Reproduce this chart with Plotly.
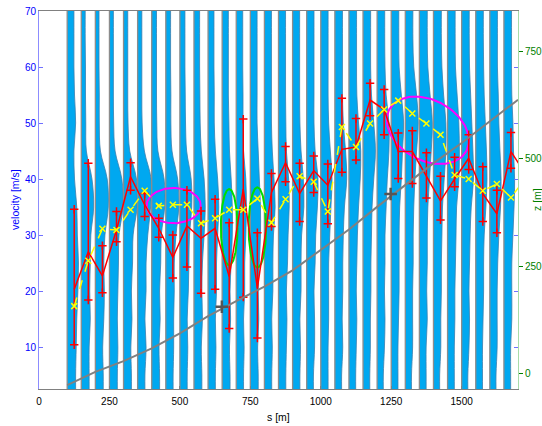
import numpy as np
import plotly.graph_objects as go

# ---------------- data ----------------
station_s = [100, 150, 200, 250, 300, 350, 400, 450, 500, 550, 600, 650, 700, 750, 800, 850,
             900, 950, 1000, 1050, 1100, 1150, 1200, 1250, 1300, 1350, 1400, 1450, 1500, 1550, 1600, 1650]
v_levels = [2.5, 5, 10, 15, 20, 25, 30, 35, 40, 45, 50, 55, 60, 65, 70]
# spectral amplitude (drawn width, in metres) of each station at each velocity level
wig_widths = [
    [30, 30, 32, 34, 38, 40, 36, 34, 26, 24, 30, 26, 24, 24, 24],
    [28, 28, 28, 32, 30, 32, 34, 44, 38, 18, 16, 15, 15, 14, 14],
    [28, 28, 26, 30, 32, 30, 34, 46, 42, 18, 14, 14, 13, 13, 13],
    [28, 28, 30, 28, 30, 32, 34, 48, 44, 20, 15, 14, 14, 14, 14],
    [28, 28, 26, 30, 28, 32, 34, 48, 46, 22, 16, 15, 15, 15, 15],
    [26, 26, 30, 26, 30, 30, 36, 46, 48, 24, 16, 15, 15, 15, 15],
    [28, 28, 26, 30, 28, 32, 34, 46, 44, 22, 18, 17, 17, 17, 17],
    [26, 26, 28, 28, 30, 30, 36, 46, 42, 22, 18, 18, 17, 17, 17],
    [26, 26, 28, 26, 30, 32, 34, 42, 40, 24, 20, 19, 18, 18, 18],
    [28, 28, 26, 30, 28, 30, 36, 40, 36, 26, 22, 21, 20, 20, 20],
    [26, 26, 28, 26, 30, 30, 34, 38, 34, 26, 22, 22, 21, 21, 21],
    [28, 28, 26, 30, 28, 32, 36, 36, 32, 26, 24, 22, 22, 22, 22],
    [26, 26, 28, 26, 30, 30, 34, 36, 34, 26, 24, 24, 23, 23, 23],
    [28, 28, 26, 30, 28, 32, 36, 36, 32, 28, 24, 24, 24, 24, 24],
    [26, 26, 28, 26, 30, 30, 32, 38, 34, 28, 25, 25, 25, 25, 25],
    [26, 26, 28, 30, 28, 32, 34, 38, 36, 28, 26, 25, 25, 25, 25],
    [26, 26, 28, 26, 30, 30, 32, 40, 38, 30, 26, 25, 25, 25, 25],
    [24, 24, 28, 28, 26, 30, 32, 38, 40, 30, 26, 26, 26, 26, 26],
    [26, 26, 26, 28, 28, 28, 32, 36, 40, 34, 28, 26, 26, 26, 26],
    [24, 24, 28, 26, 28, 28, 30, 34, 42, 38, 30, 27, 27, 27, 27],
    [24, 24, 26, 28, 26, 28, 30, 34, 40, 42, 34, 28, 27, 27, 27],
    [24, 24, 26, 26, 28, 28, 30, 32, 38, 44, 38, 30, 27, 27, 27],
    [22, 22, 26, 28, 26, 28, 28, 32, 36, 42, 42, 32, 28, 27, 27],
    [24, 24, 24, 26, 28, 28, 28, 30, 36, 40, 44, 36, 28, 27, 27],
    [22, 22, 26, 26, 26, 28, 28, 30, 34, 40, 46, 40, 30, 27, 27],
    [24, 24, 24, 28, 26, 28, 28, 30, 36, 42, 46, 38, 30, 28, 28],
    [22, 22, 26, 26, 28, 28, 30, 32, 38, 44, 44, 36, 30, 28, 28],
    [24, 24, 24, 26, 26, 28, 30, 32, 40, 42, 40, 34, 28, 27, 27],
    [22, 22, 26, 28, 26, 28, 30, 34, 42, 40, 36, 32, 28, 27, 27],
    [24, 24, 24, 26, 28, 28, 30, 36, 40, 38, 34, 30, 28, 27, 27],
    [22, 22, 26, 26, 26, 28, 32, 38, 40, 36, 32, 30, 27, 27, 27],
    [24, 24, 24, 28, 28, 28, 32, 36, 38, 34, 32, 28, 27, 27, 27],
]

pick_s = [125, 175, 225, 275, 325, 375, 425, 475, 525, 575, 625, 675, 725, 775, 825, 875,
          925, 975, 1025, 1075, 1125, 1175, 1225, 1275, 1325, 1375, 1425, 1475, 1525, 1575, 1625, 1675, 1725]
pick_v = [20.3, 27.0, 22.7, 30.9, 40.4, 35.4, 31.2, 26.0, 31.6, 29.4, 31.2, 22.6, 38.2, 20.5, 37.6, 42.9,
          37.4, 41.5, 38.9, 45.3, 45.7, 54.1, 52.4, 44.9, 44.9, 40.5, 36.1, 40.0, 43.7, 37.4, 33.8, 44.9, 41.0]
pick_hi = [34.6, 42.8, 28.1, 34.2, 42.9, 37.4, 33.0, 30.0, 38.0, 34.3, 36.4, 32.2, 50.7, 30.4, 41.0, 45.8,
           42.8, 44.1, 42.7, 54.4, 50.8, 57.1, 56.0, 48.2, 48.6, 44.7, 40.5, 43.9, 47.9, 42.2, 38.0, 48.3, 41.0]
pick_lo = [10.4, 18.4, 19.7, 28.8, 38.0, 33.3, 29.6, 22.3, 24.3, 19.6, 20.3, 13.3, 18.9, 11.6, 31.5, 39.5,
           32.4, 37.6, 32.0, 41.2, 43.4, 51.3, 47.9, 40.1, 39.2, 36.6, 32.7, 38.6, 41.7, 32.4, 30.4, 41.9, 41.0]

model_s = [125, 175, 225, 275, 325, 375, 425, 475, 525, 575, 625, 675, 725, 775, 825, 875,
           925, 975, 1025, 1075, 1125, 1175, 1225, 1275, 1325, 1375, 1425, 1475, 1525, 1575, 1625, 1675, 1725]
model_v = [17.3, 25.4, 31.1, 30.9, 34.5, 37.9, 35.2, 35.4, 35.4, 32.1, 33.0, 34.5, 34.5, 36.5, 32.2, 36.4,
           40.5, 39.5, 34.2, 49.3, 45.7, 49.9, 52.4, 54.0, 51.7, 49.9, 47.9, 40.7, 40.0, 37.9, 39.1, 36.7, 40.0]

elev_s = [100, 200, 300, 400, 500, 600, 700, 800, 900, 1000, 1100, 1200, 1300, 1400, 1500, 1600, 1700]
elev_z = [-28, 3, 28, 58, 93, 133, 168, 202, 240, 287, 335, 388, 440, 490, 537, 588, 638]
src_s = [649, 1248]
src_z = [155, 418]

# ellipses: centre (cx, cy) and parametric coefficients x = cx + ax cos t + bx sin t, y = cy + ay cos t + by sin t
ell_magenta = [(478, 35.25, 96, 0, 0, 3.15), (1380, 48.7, 136.6, -51.1, -3.73, -4.73)]
ell_green = [(675, 31.4, 29.5, 0, 0, 6.8), (775, 31.35, 31, 0, 0, 7.15)]

x_ticks = [0, 250, 500, 750, 1000, 1250, 1500]
v_ticks = [10, 20, 30, 40, 50, 60, 70]
z_ticks = [0, 250, 500, 750]

FONT = "Liberation Sans, Arial, sans-serif"
BLUE = "#0000ff"
GREEN = "#008000"

fig = go.Figure()

# wiggle traces
for s, w in zip(station_s, wig_widths):
    fig.add_trace(go.Scatter(x=[s] * len(v_levels), y=v_levels, mode="lines",
                             line=dict(color="#8c8c8c", width=1.3),
                             hoverinfo="skip", showlegend=False))
    fig.add_trace(go.Scatter(x=[s + wi for wi in w], y=v_levels, mode="lines",
                             line=dict(color="#3a7fae", width=0.8, shape="spline"),
                             fill="tonextx", fillcolor="#00a8f0",
                             hoverinfo="skip", showlegend=False))

# ellipses
t = np.linspace(0, 2 * np.pi, 121)
for (cx, cy, ax, bx, ay, by) in ell_magenta:
    fig.add_trace(go.Scatter(x=cx + ax * np.cos(t) + bx * np.sin(t), y=cy + ay * np.cos(t) + by * np.sin(t),
                             mode="lines", line=dict(color="#ff00ff", width=2), showlegend=False, hoverinfo="skip"))
for (cx, cy, ax, bx, ay, by) in ell_green:
    fig.add_trace(go.Scatter(x=cx + ax * np.cos(t) + bx * np.sin(t), y=cy + ay * np.cos(t) + by * np.sin(t),
                             mode="lines", line=dict(color="#00dd00", width=2), showlegend=False, hoverinfo="skip"))

# picks with error bars
bar_x, bar_y = [], []
for s, lo, hi in zip(pick_s, pick_lo, pick_hi):
    bar_x += [s, s, None]
    bar_y += [lo, hi, None]
fig.add_trace(go.Scatter(x=bar_x, y=bar_y, mode="lines", line=dict(color="red", width=1.5),
                         showlegend=False, hoverinfo="skip"))
fig.add_trace(go.Scatter(x=pick_s + pick_s, y=pick_lo + pick_hi, mode="markers",
                         marker=dict(symbol="cross-thin", size=6, line=dict(color="red", width=1.5)),
                         showlegend=False, hoverinfo="skip"))
fig.add_trace(go.Scatter(x=pick_s, y=pick_v, mode="lines", line=dict(color="red", width=1.5),
                         showlegend=False))

# model curve
fig.add_trace(go.Scatter(x=model_s, y=model_v, mode="lines+markers",
                         line=dict(color="#ffff00", width=1.5, dash="dash"),
                         marker=dict(symbol="x-thin", size=6, line=dict(color="#ffff00", width=1.5)),
                         showlegend=False))

# elevation profile on right axis
fig.add_trace(go.Scatter(x=elev_s, y=elev_z, mode="lines", line=dict(color="#808080", width=2),
                         yaxis="y2", showlegend=False, hoverinfo="skip"))
fig.add_trace(go.Scatter(x=src_s, y=src_z, mode="markers",
                         marker=dict(symbol="cross-thin", size=9, line=dict(color="#555555", width=2.5)),
                         yaxis="y2", showlegend=False, hoverinfo="skip"))

fig.update_layout(
    width=542, height=426,
    margin=dict(l=39, r=24, t=11, b=37, autoexpand=False),
    paper_bgcolor="white", plot_bgcolor="white",
    font=dict(family=FONT, size=10, color="black"),
    xaxis=dict(range=[0, 1700], tickvals=x_ticks, ticks="inside", ticklen=3, tickcolor="#808080",
               showline=True, linecolor="#808080", linewidth=1, mirror=True, automargin=False,
               ticklabelstandoff=3,
               showgrid=False, zeroline=False, tickfont=dict(size=10, color="black")),
    yaxis=dict(range=[2.5, 70], tickvals=v_ticks, ticks="inside", ticklen=4, tickcolor="#7070ff",
               showline=True, linecolor="#8c8cff", linewidth=1, mirror="ticks", automargin=False,
               showgrid=False, zeroline=False, tickfont=dict(size=10, color=BLUE)),
    yaxis2=dict(range=[-37, 845], tickvals=z_ticks, overlaying="y", side="right", ticks="outside",
                ticklen=4, tickcolor=GREEN, showline=True, linecolor="#a8dca8", linewidth=1,
                automargin=False,
                showgrid=False, zeroline=False, tickfont=dict(size=10, color=GREEN)),
    annotations=[
        dict(text="velocity [m/s]", xref="paper", yref="paper", x=0, y=0.5, xshift=-24,
             xanchor="center", yanchor="middle",
             textangle=-90, showarrow=False, font=dict(size=10.5, color=BLUE)),
        dict(text="z [m]", xref="paper", yref="paper", x=1, y=0.5, xshift=19,
             xanchor="center", yanchor="middle",
             textangle=-90, showarrow=False, font=dict(size=10.5, color=GREEN)),
        dict(text="s [m]", xref="paper", yref="paper", x=0.5, y=0, yshift=-28,
             xanchor="center", yanchor="middle",
             showarrow=False, font=dict(size=10.5, color="black")),
    ],
)

fig.write_html("out.html", config={"displayModeBar": False},
               post_script="document.body.style.margin='0';document.body.style.overflow='hidden';")
